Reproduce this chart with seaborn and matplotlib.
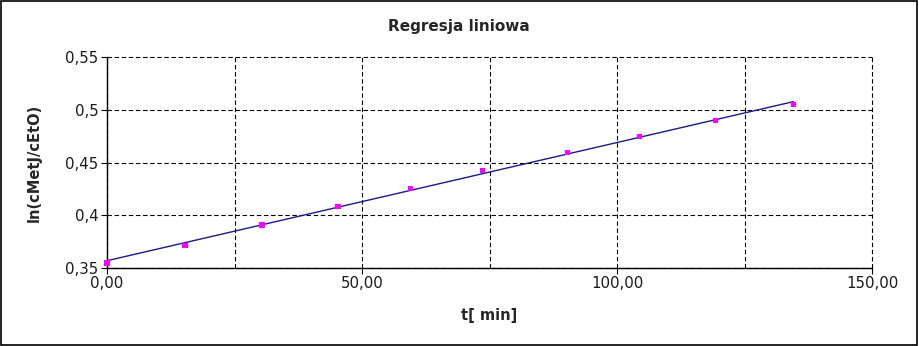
import matplotlib
matplotlib.use("Agg")
import matplotlib.pyplot as plt
import seaborn as sns
import pandas as pd
from matplotlib.patches import Rectangle
from matplotlib.ticker import MultipleLocator

# Data
t_min = [0.0, 15.3, 30.4, 45.3, 59.5, 73.6, 90.3, 104.4, 119.3, 134.6]
ln_ratio = [0.3545, 0.3715, 0.3905, 0.4085, 0.4255, 0.4425, 0.4595, 0.4748, 0.4900, 0.5048]
fit_t = [0.0, 134.6]
fit_y = [0.3569, 0.5077]

x_ticks = [0, 50, 100, 150]
x_tick_labels = ["0,00", "50,00", "100,00", "150,00"]
y_ticks = [0.35, 0.40, 0.45, 0.50, 0.55]
y_tick_labels = ["0,35", "0,4", "0,45", "0,5", "0,55"]

title = "Regresja liniowa"
xlabel = "t[ min]"
ylabel = "ln(cMetJ/cEtO)"

pts = pd.DataFrame({"t": t_min, "y": ln_ratio})
fit = pd.DataFrame({"t": fit_t, "y": fit_y})

sns.set_style("white")
plt.rcParams["font.family"] = ["DejaVu Sans"]

fig = plt.figure(figsize=(9.19, 3.46), dpi=100)
ax = fig.add_axes([107/919, 1-268/346, (872-107)/919, (268-57)/346])

sns.lineplot(data=fit, x="t", y="y", ax=ax, color="#1a1a8c", linewidth=1.0, zorder=3)
sns.scatterplot(data=pts, x="t", y="y", ax=ax, color="#ff00ff", marker="s",
                s=16, edgecolor="none", zorder=4, clip_on=False)

ax.set_xlim(0, 150)
ax.set_ylim(0.35, 0.55)
ax.set_xticks(x_ticks)
ax.set_xticklabels(x_tick_labels)
ax.set_yticks(y_ticks)
ax.set_yticklabels(y_tick_labels)
ax.xaxis.set_minor_locator(MultipleLocator(25))

dash = (0, (4.0, 2.4))
ax.grid(True, which="both", axis="x", color="black", linestyle=dash, linewidth=0.8)
ax.grid(True, which="major", axis="y", color="black", linestyle=dash, linewidth=0.8)
ax.set_axisbelow(True)
for gl in ax.get_xgridlines() + ax.get_ygridlines() + ax.xaxis.get_minorticklines():
    gl.set_clip_on(False)
for tk in ax.xaxis.get_minor_ticks() + ax.xaxis.get_major_ticks() + ax.yaxis.get_major_ticks():
    tk.gridline.set_clip_on(False)

for side in ["top", "right"]:
    ax.spines[side].set_visible(False)
for side in ["left", "bottom"]:
    ax.spines[side].set_color("black")
    ax.spines[side].set_linewidth(1.0)

ax.tick_params(axis="both", which="major", direction="out", length=4, width=0.8,
               color="black", labelsize=10.8, labelcolor="#1a1a1a", pad=2,
               left=True, bottom=True)
ax.tick_params(axis="x", which="minor", length=0)

ax.set_xlabel(xlabel, fontsize=10.5, fontweight="bold", labelpad=12)
ax.set_ylabel(ylabel, fontsize=10.5, fontweight="bold", labelpad=17)
fig.text(459/919, 1-27/346, title, ha="center", va="center", fontsize=11, fontweight="bold")

fig.patches.append(Rectangle((0.0008, 0.0015), 0.997, 0.996, transform=fig.transFigure,
                             fill=False, edgecolor="black", linewidth=1.2))

fig.savefig("out.png", dpi=100)
